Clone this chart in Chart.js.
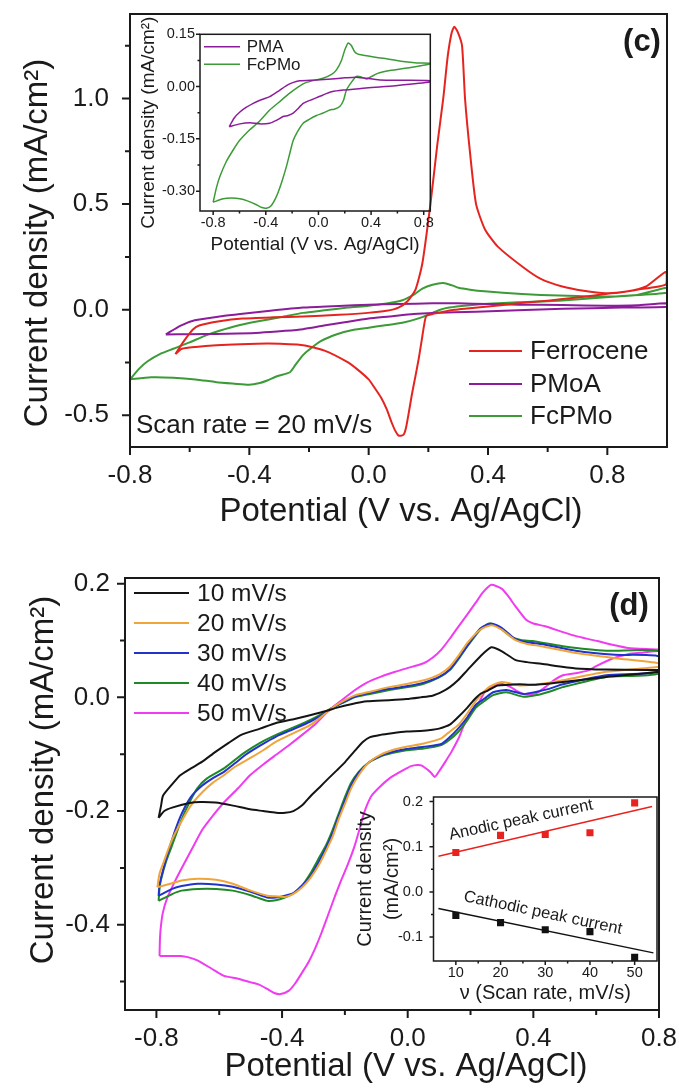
<!DOCTYPE html>
<html>
<head>
<meta charset="utf-8">
<script src="https://cdn.jsdelivr.net/npm/chart.js@4.4.1/dist/chart.umd.min.js"></script>
<style>
  body { margin: 0; background: #fff; }
  #page { position: relative; width: 679px; height: 1088px; overflow: hidden; background: #fff; }
  canvas { position: absolute; }
</style>
</head>
<body>
<div id="page">
  <canvas id="mainC" style="left:0px;top:0px" width="679" height="545"></canvas>
  <canvas id="insetC" style="left:130px;top:16px" width="306" height="244"></canvas>
  <canvas id="mainD" style="left:0px;top:548px" width="679" height="540"></canvas>
  <canvas id="insetD" style="left:345px;top:787px" width="318" height="218"></canvas>
</div>
<script>
// ---- panel (c): CV at 20 mV/s, [potential V, current mA/cm2] ----
const ferrocene = [[-0.648,-0.21],[-0.62,-0.15],[-0.59,-0.095],[-0.568,-0.075],[-0.5,-0.055],[-0.423,-0.042],[-0.32,-0.036],[-0.22,-0.032],[-0.1,-0.024],[-0.003,-0.015],[0.06,-0.005],[0.1,0.01],[0.13,0.04],[0.157,0.095],[0.18,0.22],[0.207,0.5],[0.23,0.78],[0.25,1.0],[0.265,1.2],[0.278,1.31],[0.287,1.34],[0.3,1.31],[0.313,1.25],[0.323,1.0],[0.34,0.74],[0.36,0.5],[0.39,0.38],[0.432,0.3],[0.519,0.2],[0.577,0.146],[0.649,0.11],[0.72,0.09],[0.794,0.078],[0.86,0.085],[0.93,0.11],[0.997,0.18],
  [0.997,0.12],[0.9,0.095],[0.8,0.075],[0.7,0.058],[0.6,0.043],[0.5,0.03],[0.4,0.015],[0.33,0.006],[0.287,0.0],[0.25,-0.01],[0.215,-0.02],[0.193,-0.03],[0.185,-0.08],[0.178,-0.143],[0.168,-0.23],[0.157,-0.313],[0.145,-0.4],[0.135,-0.483],[0.125,-0.56],[0.118,-0.59],[0.108,-0.597],[0.099,-0.594],[0.088,-0.57],[0.077,-0.534],[0.06,-0.47],[0.041,-0.415],[0.02,-0.37],[0.0,-0.33],[-0.04,-0.28],[-0.075,-0.245],[-0.148,-0.194],[-0.22,-0.168],[-0.336,-0.16],[-0.43,-0.163],[-0.51,-0.168],[-0.58,-0.176],[-0.626,-0.185],[-0.648,-0.21]];
const pmoa = [[-0.68,-0.117],[-0.63,-0.075],[-0.583,-0.05],[-0.5,-0.032],[-0.438,-0.022],[-0.33,-0.005],[-0.22,0.01],[-0.1,0.018],[0.0,0.024],[0.1,0.027],[0.214,0.03],[0.3,0.03],[0.4,0.027],[0.504,0.024],[0.65,0.022],[0.794,0.019],[0.9,0.021],[1.0,0.03],
  [1.0,0.014],[0.85,0.01],[0.65,0.004],[0.5,-0.002],[0.36,-0.01],[0.214,-0.015],[0.15,-0.02],[0.07,-0.032],[0.0,-0.042],[-0.075,-0.058],[-0.15,-0.075],[-0.22,-0.092],[-0.28,-0.1],[-0.365,-0.109],[-0.44,-0.113],[-0.51,-0.115],[-0.6,-0.116],[-0.68,-0.117]];
const fcpmo = [[-0.8,-0.33],[-0.77,-0.28],[-0.742,-0.245],[-0.7,-0.21],[-0.655,-0.185],[-0.6,-0.155],[-0.554,-0.126],[-0.5,-0.1],[-0.438,-0.075],[-0.37,-0.055],[-0.293,-0.035],[-0.22,-0.015],[-0.148,-0.003],[-0.07,0.01],[0.0,0.019],[0.06,0.03],[0.113,0.045],[0.15,0.07],[0.18,0.1],[0.214,0.118],[0.25,0.126],[0.28,0.115],[0.301,0.104],[0.34,0.095],[0.388,0.087],[0.45,0.08],[0.577,0.07],[0.7,0.065],[0.794,0.062],[0.9,0.07],[1.0,0.104],
  [1.0,0.08],[0.85,0.065],[0.65,0.044],[0.5,0.035],[0.4,0.028],[0.33,0.02],[0.27,0.01],[0.24,0.0],[0.214,-0.015],[0.17,-0.04],[0.113,-0.062],[0.05,-0.075],[0.0,-0.085],[-0.05,-0.095],[-0.104,-0.115],[-0.162,-0.15],[-0.2,-0.19],[-0.22,-0.215],[-0.245,-0.26],[-0.264,-0.296],[-0.307,-0.315],[-0.34,-0.335],[-0.365,-0.347],[-0.401,-0.355],[-0.45,-0.35],[-0.51,-0.343],[-0.58,-0.33],[-0.655,-0.322],[-0.73,-0.32],[-0.8,-0.33]];

// inset of (c)
const pmaInset = [[-0.678,-0.115],[-0.64,-0.09],[-0.597,-0.073],[-0.55,-0.06],[-0.496,-0.048],[-0.43,-0.037],[-0.37,-0.029],[-0.3,-0.012],[-0.243,0.003],[-0.19,0.012],[-0.142,0.017],[-0.015,0.019],[0.1,0.022],[0.2,0.025],[0.289,0.027],[0.466,0.019],[0.65,0.018],[0.846,0.017],
  [0.846,0.013],[0.6,0.003],[0.466,-0.001],[0.339,-0.005],[0.187,-0.01],[0.1,-0.015],[0.035,-0.024],[-0.04,-0.036],[-0.116,-0.048],[-0.16,-0.065],[-0.192,-0.076],[-0.23,-0.083],[-0.268,-0.086],[-0.32,-0.097],[-0.37,-0.105],[-0.446,-0.107],[-0.52,-0.104],[-0.597,-0.107],[-0.678,-0.115]];
const fcpmoInset = [[-0.8,-0.332],[-0.775,-0.29],[-0.749,-0.258],[-0.7,-0.215],[-0.648,-0.182],[-0.6,-0.155],[-0.522,-0.124],[-0.45,-0.1],[-0.37,-0.067],[-0.3,-0.045],[-0.218,-0.019],[-0.15,0.0],[-0.091,0.012],[0.035,0.024],[0.1,0.035],[0.137,0.048],[0.175,0.075],[0.2,0.105],[0.225,0.125],[0.25,0.118],[0.275,0.1],[0.3,0.093],[0.339,0.09],[0.42,0.085],[0.491,0.081],[0.643,0.072],[0.75,0.068],[0.846,0.067],
  [0.846,0.065],[0.7,0.055],[0.542,0.046],[0.45,0.038],[0.365,0.022],[0.32,0.028],[0.289,0.029],[0.25,0.012],[0.213,-0.01],[0.19,-0.04],[0.162,-0.057],[0.12,-0.065],[0.086,-0.067],[0.035,-0.076],[-0.015,-0.083],[-0.07,-0.094],[-0.116,-0.105],[-0.16,-0.13],[-0.192,-0.155],[-0.22,-0.195],[-0.243,-0.229],[-0.28,-0.275],[-0.319,-0.315],[-0.36,-0.342],[-0.395,-0.349],[-0.43,-0.347],[-0.471,-0.339],[-0.54,-0.328],[-0.597,-0.322],[-0.66,-0.32],[-0.724,-0.322],[-0.8,-0.332]];

// ---- panel (d): FcPMo at several scan rates ----
const scan10 = [[-0.793,-0.212],[-0.785,-0.19],[-0.779,-0.173],[-0.75,-0.153],[-0.724,-0.137],[-0.69,-0.125],[-0.654,-0.113],[-0.612,-0.096],[-0.57,-0.08],[-0.53,-0.066],[-0.47,-0.055],[-0.419,-0.045],[-0.36,-0.038],[-0.308,-0.031],[-0.26,-0.024],[-0.225,-0.018],[-0.18,-0.012],[-0.129,-0.007],[-0.06,-0.005],[-0.004,-0.003],[0.04,0.0],[0.079,0.003],[0.11,0.01],[0.134,0.018],[0.16,0.03],[0.19,0.048],[0.231,0.072],[0.266,0.088],[0.3,0.081],[0.342,0.066],[0.38,0.062],[0.425,0.059],[0.535,0.051],[0.632,0.049],[0.8,0.048],
  [0.8,0.045],[0.632,0.036],[0.494,0.027],[0.425,0.023],[0.39,0.022],[0.355,0.023],[0.32,0.022],[0.286,0.021],[0.255,0.012],[0.231,0.006],[0.21,-0.005],[0.19,-0.018],[0.16,-0.035],[0.134,-0.048],[0.1,-0.055],[0.079,-0.057],[0.04,-0.059],[-0.004,-0.06],[-0.05,-0.063],[-0.087,-0.066],[-0.12,-0.07],[-0.142,-0.078],[-0.17,-0.095],[-0.198,-0.113],[-0.225,-0.128],[-0.253,-0.143],[-0.28,-0.158],[-0.308,-0.173],[-0.336,-0.19],[-0.364,-0.2],[-0.39,-0.203],[-0.419,-0.203],[-0.46,-0.2],[-0.502,-0.197],[-0.56,-0.19],[-0.612,-0.185],[-0.66,-0.184],[-0.695,-0.186],[-0.75,-0.194],[-0.775,-0.2],[-0.793,-0.212]];
const scan20 = [[-0.797,-0.334],[-0.79,-0.31],[-0.779,-0.293],[-0.75,-0.25],[-0.723,-0.221],[-0.69,-0.19],[-0.654,-0.167],[-0.62,-0.15],[-0.585,-0.137],[-0.55,-0.122],[-0.502,-0.107],[-0.46,-0.093],[-0.419,-0.078],[-0.36,-0.062],[-0.308,-0.048],[-0.27,-0.032],[-0.239,-0.018],[-0.2,-0.005],[-0.17,0.003],[-0.12,0.01],[-0.059,0.018],[0.0,0.024],[0.051,0.03],[0.1,0.04],[0.134,0.054],[0.16,0.072],[0.19,0.096],[0.231,0.119],[0.266,0.127],[0.3,0.119],[0.342,0.101],[0.38,0.094],[0.425,0.09],[0.535,0.078],[0.66,0.069],[0.8,0.06],
  [0.8,0.054],[0.632,0.045],[0.494,0.03],[0.44,0.025],[0.397,0.022],[0.355,0.021],[0.3,0.027],[0.259,0.018],[0.217,-0.006],[0.19,-0.028],[0.162,-0.048],[0.13,-0.062],[0.107,-0.072],[0.051,-0.081],[-0.004,-0.087],[-0.05,-0.093],[-0.087,-0.101],[-0.125,-0.115],[-0.156,-0.137],[-0.18,-0.16],[-0.198,-0.185],[-0.22,-0.215],[-0.239,-0.245],[-0.26,-0.27],[-0.281,-0.293],[-0.31,-0.318],[-0.336,-0.334],[-0.365,-0.346],[-0.391,-0.351],[-0.42,-0.35],[-0.447,-0.349],[-0.5,-0.34],[-0.557,-0.328],[-0.61,-0.321],[-0.668,-0.319],[-0.72,-0.322],[-0.75,-0.327],[-0.797,-0.334]];
const scan30 = [[-0.793,-0.349],[-0.79,-0.33],[-0.779,-0.304],[-0.75,-0.25],[-0.723,-0.209],[-0.69,-0.175],[-0.654,-0.155],[-0.62,-0.142],[-0.585,-0.131],[-0.55,-0.116],[-0.516,-0.101],[-0.47,-0.085],[-0.419,-0.069],[-0.36,-0.055],[-0.308,-0.042],[-0.27,-0.03],[-0.239,-0.018],[-0.2,-0.007],[-0.17,0.001],[-0.12,0.008],[-0.059,0.015],[0.0,0.02],[0.051,0.026],[0.1,0.036],[0.134,0.049],[0.16,0.068],[0.19,0.091],[0.231,0.121],[0.266,0.13],[0.3,0.122],[0.342,0.103],[0.38,0.097],[0.425,0.094],[0.535,0.082],[0.66,0.075],[0.8,0.072],
  [0.8,0.045],[0.632,0.039],[0.494,0.023],[0.45,0.015],[0.411,0.01],[0.369,0.006],[0.314,0.013],[0.272,0.009],[0.245,-0.002],[0.217,-0.013],[0.19,-0.035],[0.162,-0.054],[0.13,-0.072],[0.107,-0.082],[0.051,-0.087],[-0.004,-0.091],[-0.05,-0.096],[-0.087,-0.103],[-0.125,-0.115],[-0.156,-0.133],[-0.18,-0.155],[-0.198,-0.179],[-0.22,-0.21],[-0.239,-0.239],[-0.26,-0.265],[-0.281,-0.287],[-0.31,-0.315],[-0.336,-0.331],[-0.365,-0.345],[-0.391,-0.349],[-0.42,-0.352],[-0.447,-0.352],[-0.5,-0.342],[-0.557,-0.333],[-0.61,-0.329],[-0.668,-0.328],[-0.72,-0.332],[-0.75,-0.337],[-0.793,-0.349]];
const scan40 = [[-0.793,-0.358],[-0.79,-0.335],[-0.786,-0.322],[-0.77,-0.29],[-0.752,-0.263],[-0.72,-0.215],[-0.695,-0.185],[-0.67,-0.16],[-0.64,-0.143],[-0.585,-0.125],[-0.55,-0.11],[-0.516,-0.096],[-0.47,-0.08],[-0.419,-0.066],[-0.36,-0.052],[-0.308,-0.039],[-0.27,-0.028],[-0.239,-0.018],[-0.2,-0.008],[-0.17,0.0],[-0.12,0.006],[-0.059,0.013],[0.0,0.018],[0.051,0.024],[0.1,0.035],[0.134,0.048],[0.16,0.066],[0.19,0.09],[0.231,0.119],[0.259,0.13],[0.286,0.125],[0.328,0.107],[0.36,0.101],[0.397,0.099],[0.494,0.09],[0.632,0.082],[0.8,0.081],
  [0.8,0.042],[0.632,0.036],[0.494,0.018],[0.45,0.01],[0.411,0.004],[0.369,0.001],[0.314,0.009],[0.272,0.004],[0.245,-0.006],[0.217,-0.018],[0.19,-0.04],[0.162,-0.06],[0.13,-0.076],[0.107,-0.084],[0.051,-0.09],[-0.004,-0.093],[-0.05,-0.098],[-0.087,-0.104],[-0.125,-0.115],[-0.156,-0.131],[-0.18,-0.15],[-0.198,-0.173],[-0.22,-0.205],[-0.239,-0.233],[-0.26,-0.26],[-0.281,-0.281],[-0.31,-0.31],[-0.336,-0.331],[-0.365,-0.345],[-0.391,-0.352],[-0.42,-0.357],[-0.447,-0.358],[-0.5,-0.348],[-0.557,-0.34],[-0.61,-0.337],[-0.668,-0.337],[-0.72,-0.34],[-0.75,-0.346],[-0.793,-0.358]];
const scan50 = [[-0.79,-0.455],[-0.789,-0.43],[-0.787,-0.41],[-0.78,-0.38],[-0.765,-0.352],[-0.745,-0.328],[-0.723,-0.304],[-0.69,-0.27],[-0.654,-0.233],[-0.62,-0.208],[-0.585,-0.185],[-0.54,-0.16],[-0.502,-0.137],[-0.46,-0.118],[-0.419,-0.101],[-0.38,-0.085],[-0.336,-0.066],[-0.29,-0.045],[-0.253,-0.024],[-0.21,-0.005],[-0.17,0.012],[-0.13,0.026],[-0.087,0.036],[-0.04,0.045],[-0.004,0.051],[0.051,0.06],[0.08,0.07],[0.107,0.084],[0.135,0.104],[0.162,0.125],[0.19,0.146],[0.217,0.167],[0.24,0.185],[0.266,0.198],[0.3,0.191],[0.32,0.178],[0.342,0.161],[0.376,0.137],[0.4,0.13],[0.438,0.125],[0.521,0.11],[0.604,0.099],[0.701,0.087],[0.8,0.084],
  [0.8,0.082],[0.75,0.079],[0.701,0.076],[0.65,0.068],[0.6,0.055],[0.577,0.048],[0.54,0.043],[0.494,0.039],[0.465,0.03],[0.438,0.018],[0.415,0.009],[0.397,0.006],[0.369,0.006],[0.345,0.012],[0.328,0.018],[0.305,0.023],[0.286,0.024],[0.265,0.018],[0.245,0.009],[0.225,-0.01],[0.203,-0.024],[0.18,-0.048],[0.162,-0.072],[0.14,-0.095],[0.12,-0.113],[0.1,-0.13],[0.086,-0.14],[0.075,-0.133],[0.065,-0.128],[0.045,-0.12],[0.03,-0.119],[0.01,-0.121],[-0.004,-0.125],[-0.03,-0.133],[-0.059,-0.143],[-0.09,-0.158],[-0.115,-0.173],[-0.13,-0.19],[-0.142,-0.209],[-0.155,-0.235],[-0.17,-0.263],[-0.19,-0.293],[-0.212,-0.322],[-0.233,-0.352],[-0.253,-0.382],[-0.275,-0.415],[-0.295,-0.442],[-0.315,-0.465],[-0.336,-0.484],[-0.358,-0.503],[-0.378,-0.516],[-0.405,-0.522],[-0.425,-0.52],[-0.447,-0.513],[-0.475,-0.505],[-0.502,-0.501],[-0.54,-0.495],[-0.585,-0.49],[-0.625,-0.477],[-0.668,-0.463],[-0.7,-0.457],[-0.723,-0.455],[-0.76,-0.455],[-0.79,-0.455]];

// inset of (d): peak current vs scan rate
const scanRates = [10, 20, 30, 40, 50];
const anodicPeak = [0.087, 0.125, 0.127, 0.131, 0.197];
const cathodicPeak = [-0.052, -0.068, -0.084, -0.088, -0.145];
const anodicFit = [[6.1, 0.079], [53.9, 0.189]];
const cathodicFit = [[6.1, -0.037], [54.2, -0.135]];

// ticks
const cXTicks = [-0.8, -0.4, 0, 0.4, 0.8];
const cXMinor = [-0.6, -0.2, 0.2, 0.6];
const cYTicks = [-0.5, 0, 0.5, 1.0];
const cYMinor = [-0.25, 0.25, 0.75, 1.25];
const icXTicks = [-0.8, -0.4, 0, 0.4, 0.8];
const icXMinor = [-0.6, -0.2, 0.2, 0.6];
const icYTicks = [-0.3, -0.15, 0, 0.15];
const icYMinor = [-0.225, -0.075, 0.075];
const dXTicks = [-0.8, -0.4, 0, 0.4, 0.8];
const dXMinor = [-0.6, -0.2, 0.2, 0.6];
const dYTicks = [-0.4, -0.2, 0, 0.2];
const dYMinor = [-0.5, -0.3, -0.1, 0.1];
const idXTicks = [10, 20, 30, 40, 50];
const idXMinor = [15, 25, 35, 45];
const idYTicks = [-0.1, 0, 0.1, 0.2];
const idYMinor = [-0.05, 0.05, 0.15];

const FONT = '"Liberation Sans", Arial, sans-serif';
const INK = '#1a1a1a';
Chart.defaults.font.family = FONT;
Chart.defaults.color = INK;

// frame box + outward major/minor ticks
const frameTicks = {
  id: 'frameTicks',
  afterDatasetsDraw(chart, args, o) {
    const { ctx, chartArea: a, scales: { x, y } } = chart;
    ctx.save();
    ctx.strokeStyle = INK;
    ctx.lineWidth = o.lw;
    ctx.strokeRect(a.left, a.top, a.right - a.left, a.bottom - a.top);
    ctx.beginPath();
    o.xMajor.forEach(v => { const p = x.getPixelForValue(v); ctx.moveTo(p, a.bottom); ctx.lineTo(p, a.bottom + o.major); });
    o.xMinor.forEach(v => { const p = x.getPixelForValue(v); ctx.moveTo(p, a.bottom); ctx.lineTo(p, a.bottom + o.minor); });
    o.yMajor.forEach(v => { const p = y.getPixelForValue(v); ctx.moveTo(a.left, p); ctx.lineTo(a.left - o.major, p); });
    o.yMinor.forEach(v => { const p = y.getPixelForValue(v); ctx.moveTo(a.left, p); ctx.lineTo(a.left - o.minor, p); });
    ctx.stroke();
    ctx.restore();
  }
};

// free text (titles, panel letters, notes)
const notes = {
  id: 'notes',
  afterDraw(chart, args, o) {
    const ctx = chart.ctx;
    (o.items || []).forEach(n => {
      ctx.save();
      ctx.translate(n.x, n.y);
      if (n.rot) ctx.rotate(n.rot * Math.PI / 180);
      ctx.font = (n.bold ? 'bold ' : '') + n.size + 'px ' + FONT;
      ctx.fillStyle = INK;
      ctx.textAlign = n.align || 'center';
      ctx.textBaseline = 'middle';
      ctx.fillText(n.text, 0, 0);
      ctx.restore();
    });
  }
};

// legend drawn from the datasets
const key = {
  id: 'key',
  afterDraw(chart, args, o) {
    if (!o.rows) return;
    const ctx = chart.ctx;
    ctx.save();
    ctx.font = o.size + 'px ' + FONT;
    ctx.textBaseline = 'middle';
    ctx.textAlign = 'left';
    o.rows.forEach((y, i) => {
      const ds = chart.data.datasets[i];
      ctx.strokeStyle = ds.borderColor;
      ctx.lineWidth = o.lw;
      ctx.beginPath(); ctx.moveTo(o.x0, y); ctx.lineTo(o.x1, y); ctx.stroke();
      ctx.fillStyle = INK;
      ctx.fillText(ds.label, o.tx, y + 1);
    });
    ctx.restore();
  }
};

function axis(o) {
  return {
    type: 'linear',
    min: o.min, max: o.max,
    afterBuildTicks: s => { s.ticks = o.ticks.map(v => ({ value: v })); },
    afterFit: s => {
      if (o.w !== undefined) s.width = o.w;
      if (o.h !== undefined) s.height = o.h;
      // no extra room for edge labels, the plot box is placed by hand
      s.paddingLeft = 0; s.paddingRight = 0; s.paddingTop = 0; s.paddingBottom = 0;
    },
    grid: { display: false, drawTicks: false },
    border: { display: false },
    ticks: { padding: o.pad, autoSkip: false, maxRotation: 0, minRotation: 0, color: INK,
             font: { size: o.size }, callback: v => Number(v).toFixed(o.dec) },
    title: o.title || { display: false }
  };
}

function curve(label, data, color, width) {
  return { label, data, borderColor: color, backgroundColor: color, borderWidth: width,
           showLine: true, pointRadius: 0, pointHoverRadius: 0, tension: 0.2, fill: false };
}

function base(pad, plugins) {
  return {
    responsive: false, animation: false, events: [],
    layout: { padding: pad, autoPadding: false },
    plugins: Object.assign({ legend: { display: false }, tooltip: { enabled: false } }, plugins)
  };
}

// panel (c)
new Chart(document.getElementById('mainC'), {
  type: 'scatter',
  data: { datasets: [
    curve('Ferrocene', ferrocene, '#e52420', 2),
    curve('PMoA', pmoa, '#8c1d9a', 2),
    curve('FcPMo', fcpmo, '#3c9b37', 2)
  ] },
  options: Object.assign(base({ top: 14, right: 12, left: 0, bottom: 0 }, {
    frameTicks: { lw: 2, major: 8, minor: 5, xMajor: cXTicks, xMinor: cXMinor, yMajor: cYTicks, yMinor: cYMinor },
    key: { rows: [351, 384, 416], x0: 469, x1: 522, tx: 530, size: 26, lw: 2 },
    notes: { items: [
      { text: 'Current density (mA/cm²)', x: 38, y: 243, rot: -90, size: 33 },
      { text: 'Potential (V vs. Ag/AgCl)', x: 401, y: 512, size: 33 },
      { text: '(c)', x: 642, y: 42, size: 31, bold: true },
      { text: 'Scan rate = 20 mV/s', x: 136, y: 426, size: 26, align: 'left' }
    ] }
  }), {
    scales: {
      x: axis({ min: -0.8, max: 1.0, ticks: cXTicks, dec: 1, pad: 13, size: 26, h: 98 }),
      y: axis({ min: -0.65, max: 1.4, ticks: cYTicks, dec: 1, pad: 21, size: 26, w: 130 })
    }
  }),
  plugins: [frameTicks, notes, key]
});

// inset of (c)
new Chart(document.getElementById('insetC'), {
  type: 'scatter',
  data: { datasets: [
    curve('PMA', pmaInset, '#8c1d9a', 1.5),
    curve('FcPMo', fcpmoInset, '#3c9b37', 1.5)
  ] },
  options: Object.assign(base({ top: 18.3, right: 5.7, left: 0, bottom: 0 }, {
    frameTicks: { lw: 1.5, major: 4, minor: 2.5, xMajor: icXTicks, xMinor: icXMinor, yMajor: icYTicks, yMinor: icYMinor },
    key: { rows: [30.7, 48.3], x0: 74, x1: 110, tx: 116.7, size: 17, lw: 1.5 }
  }), {
    scales: {
      x: axis({ min: -0.9, max: 0.85, ticks: icXTicks, dec: 1, pad: 3, size: 14.5, h: 49,
        title: { display: true, text: 'Potential (V vs. Ag/AgCl)', color: INK, font: { size: 19 }, padding: { top: 0, bottom: 3.6 } } }),
      y: axis({ min: -0.357, max: 0.15, ticks: icYTicks, dec: 2, pad: 5, size: 14.5, w: 70,
        title: { display: true, text: 'Current density (mA/cm²)', color: INK, font: { size: 19 }, padding: { top: 7.6, bottom: 0 } } })
    }
  }),
  plugins: [frameTicks, key]
});

// panel (d)
new Chart(document.getElementById('mainD'), {
  type: 'scatter',
  data: { datasets: [
    curve('10 mV/s', scan10, '#141414', 2),
    curve('20 mV/s', scan20, '#f0a53a', 2),
    curve('30 mV/s', scan30, '#2233cc', 2),
    curve('40 mV/s', scan40, '#1f8a25', 2),
    curve('50 mV/s', scan50, '#f03cf0', 2)
  ] },
  options: Object.assign(base({ top: 30, right: 20, left: 0, bottom: 0 }, {
    frameTicks: { lw: 2, major: 8, minor: 5, xMajor: dXTicks, xMinor: dXMinor, yMajor: dYTicks, yMinor: dYMinor },
    key: { rows: [45, 75, 105, 135, 165], x0: 134, x1: 189, tx: 197, size: 24.5, lw: 2 },
    notes: { items: [
      { text: 'Current density (mA/cm²)', x: 44, y: 232, rot: -90, size: 33 },
      { text: 'Potential (V vs. Ag/AgCl)', x: 406, y: 519, size: 33 },
      { text: '(d)', x: 629, y: 58, size: 31, bold: true }
    ] }
  }), {
    scales: {
      x: axis({ min: -0.9, max: 0.8, ticks: dXTicks, dec: 1, pad: 13, size: 26, h: 78 }),
      y: axis({ min: -0.55, max: 0.21, ticks: dYTicks, dec: 1, pad: 15, size: 26, w: 125 })
    }
  }),
  plugins: [frameTicks, notes, key]
});

// inset of (d)
new Chart(document.getElementById('insetD'), {
  type: 'scatter',
  data: { datasets: [
    { label: 'Anodic fit', data: anodicFit, showLine: true, borderColor: '#e8231f', borderWidth: 1.5, pointRadius: 0 },
    { label: 'Cathodic fit', data: cathodicFit, showLine: true, borderColor: '#111', borderWidth: 1.5, pointRadius: 0 },
    { label: 'Anodic', data: scanRates.map((r, i) => ({ x: r, y: anodicPeak[i] })), pointStyle: 'rect', pointRadius: 5, backgroundColor: '#e8231f', borderWidth: 0 },
    { label: 'Cathodic', data: scanRates.map((r, i) => ({ x: r, y: cathodicPeak[i] })), pointStyle: 'rect', pointRadius: 5, backgroundColor: '#111', borderWidth: 0 }
  ] },
  options: Object.assign(base({ top: 10, right: 6, left: 0, bottom: 0 }, {
    frameTicks: { lw: 1.5, major: 4, minor: 2.5, xMajor: idXTicks, xMinor: idXMinor, yMajor: idYTicks, yMinor: idYMinor },
    notes: { items: [
      { text: 'Anodic peak current', x: 176, y: 33, rot: -12, size: 16.5 },
      { text: 'Cathodic peak current', x: 198, y: 126, rot: 11.8, size: 16.5 }
    ] }
  }), {
    scales: {
      x: axis({ min: 5, max: 55, ticks: idXTicks, dec: 0, pad: 3, size: 14.5, h: 44,
        title: { display: true, text: 'ν (Scan rate, mV/s)', color: INK, font: { size: 20 }, padding: { top: 0, bottom: 0 } } }),
      y: axis({ min: -0.153, max: 0.21, ticks: idYTicks, dec: 1, pad: 10.5, size: 14.5, w: 88.5,
        title: { display: true, text: ['Current density', '(mA/cm²)'], color: INK, font: { size: 20, lineHeight: 1.35 }, padding: { top: 6.5, bottom: 0 } } })
    }
  }),
  plugins: [frameTicks, notes]
});
</script>
</body>
</html>
